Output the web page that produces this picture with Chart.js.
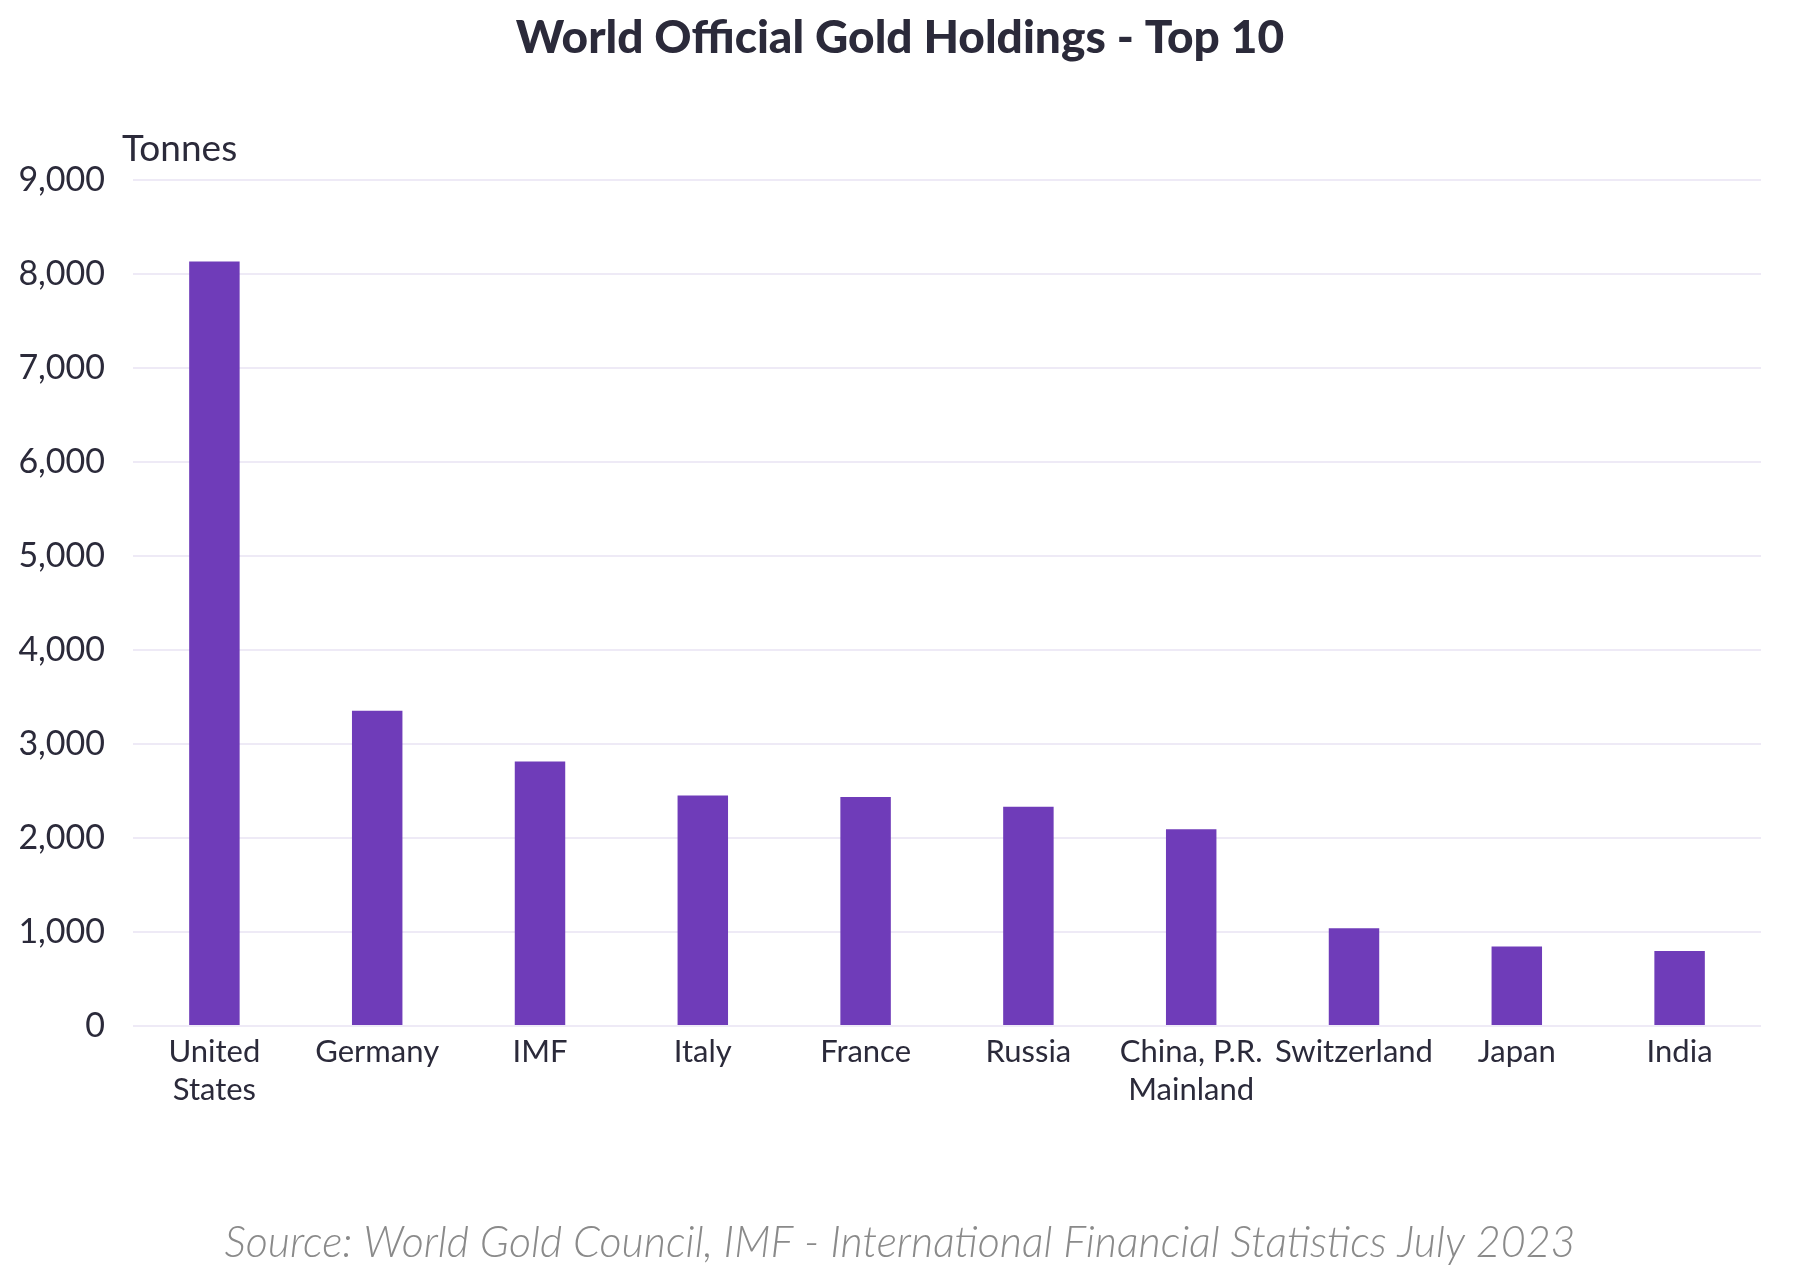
<!DOCTYPE html>
<html>
<head>
<meta charset="utf-8">
<script src="https://cdn.jsdelivr.net/npm/chart.js@4.4.0/dist/chart.umd.min.js"></script>
<style>
  html, body { margin: 0; padding: 0; background: #ffffff; }
  #wrap { width: 1800px; height: 1268px; position: relative; }
</style>
</head>
<body>
<div id="wrap"><canvas id="c"></canvas></div>
<script>
const categories = [["United", "States"], "Germany", "IMF", "Italy", "France", "Russia", ["China, P.R.", "Mainland"], "Switzerland", "Japan", "India"];
const holdings = [8133.5, 3352.6, 2814.0, 2451.8, 2436.9, 2332.7, 2092.0, 1040.0, 845.9, 797.4];
const yTicks = [0, 1000, 2000, 3000, 4000, 5000, 6000, 7000, 8000, 9000];
const titleText = "World Official Gold Holdings - Top 10";
const sourceText = "Source: World Gold Council, IMF - International Financial Statistics July 2023";
const unitText = "Tonnes";

const TEXT = "#2b2a3a";
const BAR = "#6f3cb9";
const GRID = "#eeeaf6";

const textPlugin = {
  id: "chartTexts",
  afterDraw(chart) {
    const ctx = chart.ctx;
    const cx = chart.width / 2;
    ctx.save();
    ctx.textBaseline = "middle";
    ctx.textAlign = "center";
    ctx.fillStyle = TEXT;
    ctx.font = "900 46px Lato";
    ctx.fillText(titleText, cx, 38);
    ctx.fillStyle = "#8a8a8a";
    ctx.font = "italic 300 43px Lato";
    ctx.fillText(sourceText, cx, 1243);
    ctx.textBaseline = "alphabetic";
    ctx.textAlign = "left";
    ctx.fillStyle = TEXT;
    ctx.font = "37px Lato";
    ctx.fillText(unitText, 122, 161);
    ctx.restore();
  }
};

new Chart(document.getElementById("c"), {
  type: "bar",
  data: {
    labels: categories,
    datasets: [{
      data: holdings,
      backgroundColor: BAR,
      borderWidth: 0,
      barPercentage: 0.31,
      categoryPercentage: 1.0
    }]
  },
  options: {
    responsive: true,
    maintainAspectRatio: false,
    animation: false,
    layout: { padding: { left: 0, right: 39, top: 180, bottom: 0 } },
    plugins: {
      legend: { display: false },
      tooltip: { enabled: false },
      title: { display: false },
      subtitle: { display: false }
    },
    scales: {
      x: {
        grid: { display: false, drawTicks: false },
        border: { display: false },
        ticks: {
          color: TEXT,
          font: { family: "Lato", size: 31, lineHeight: 1.23 },
          padding: 7,
          maxRotation: 0,
          autoSkip: false
        },
        afterFit(scale) { scale.height = 242; }
      },
      y: {
        min: 0,
        max: 9000,
        afterBuildTicks(scale) { scale.ticks = yTicks.map(v => ({ value: v })); },
        grid: { color: GRID, lineWidth: 2, drawTicks: false },
        border: { display: false },
        ticks: {
          color: TEXT,
          font: { family: "Lato", size: 34 },
          padding: 28,
          callback: (v) => v.toLocaleString("en-US")
        },
        afterFit(scale) { scale.width = 133; }
      }
    }
  },
  plugins: [textPlugin]
});
</script>
</body>
</html>
